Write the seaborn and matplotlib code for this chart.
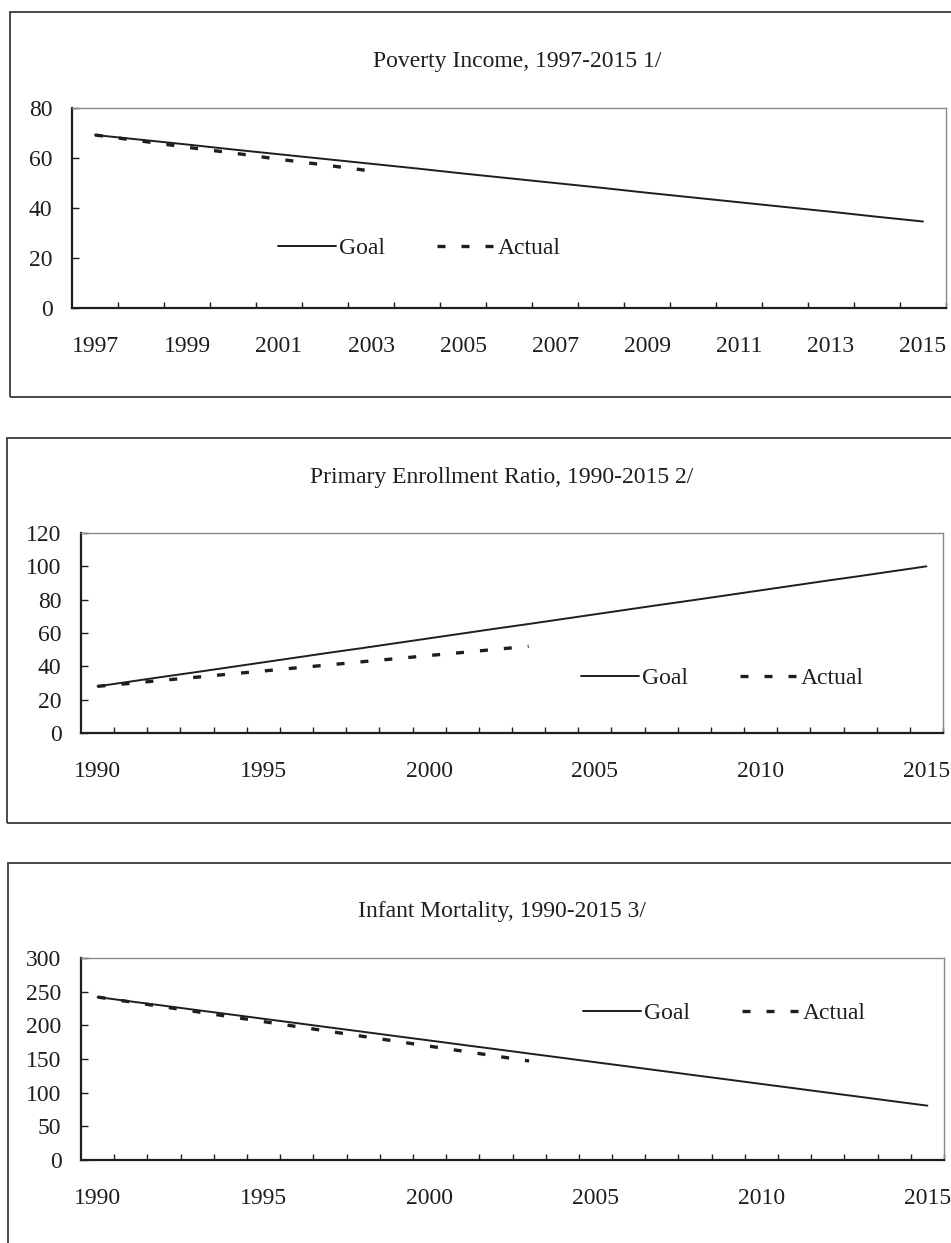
import matplotlib
matplotlib.use("Agg")
import matplotlib.pyplot as plt
import matplotlib.patches as mpatches
from matplotlib.ticker import FixedLocator, NullFormatter
import seaborn as sns
import pandas as pd

# ---- data ----
poverty_years = list(range(1997, 2016))
poverty_goal = [69.2, 67.3, 65.4, 63.4, 61.5, 59.6, 57.7, 55.8, 53.8, 51.9,
                50.0, 48.1, 46.1, 44.2, 42.3, 40.4, 38.5, 36.5, 34.6]
poverty_actual_years = list(range(1997, 2004))
poverty_actual = [69.2, 66.8, 64.3, 62.0, 59.5, 57.2, 54.8]

enroll_years = list(range(1990, 2016))
enroll_goal = [28.0, 30.9, 33.8, 36.6, 39.5, 42.4, 45.3, 48.2, 51.0, 53.9,
               56.8, 59.7, 62.6, 65.4, 68.3, 71.2, 74.1, 77.0, 79.8, 82.7,
               85.6, 88.5, 91.4, 94.2, 97.1, 100.0]
enroll_actual_years = list(range(1990, 2004))
enroll_actual = [28.0, 29.8, 31.7, 33.5, 35.4, 37.2, 39.1, 40.9, 42.8, 44.6,
                 46.5, 48.3, 50.2, 52.0]

infant_years = list(range(1990, 2016))
infant_goal = [242.0, 235.5, 229.1, 222.6, 216.2, 209.7, 203.3, 196.8, 190.4,
               183.9, 177.5, 171.0, 164.6, 158.1, 151.7, 145.2, 138.8, 132.3,
               125.8, 119.4, 112.9, 106.5, 100.0, 93.6, 87.1, 80.7]
infant_actual_years = list(range(1990, 2004))
infant_actual = [242.0, 234.7, 227.4, 220.1, 212.8, 205.5, 198.2, 190.9, 183.6,
                 176.3, 169.0, 161.7, 154.4, 147.0]

titles = ["Poverty Income, 1997-2015 1/",
          "Primary Enrollment Ratio, 1990-2015 2/",
          "Infant Mortality, 1990-2015 3/"]
series_labels = ["Goal", "Actual"]

# ---- styling ----
W, H = 951, 1243
sns.set_style("white")
plt.rcParams["font.family"] = ["Liberation Serif", "DejaVu Serif"]
FS = 17
INK = "#1e1e1e"

fig = plt.figure(figsize=(W / 100, H / 100), dpi=100)


def fx(px):
    return px / W


def fy(py):
    return 1 - py / H


panels = [
    dict(box=(10, 12, 397), rect=(72, 946, 108, 308), title_xy=(517, 62),
         years=poverty_years, goal=poverty_goal,
         ayears=poverty_actual_years, actual=poverty_actual,
         ylim=(0, 80), ystep=20, label_years=list(range(1997, 2016, 2)),
         legend_xy=(278, 248)),
    dict(box=(7, 438, 823), rect=(81, 943, 533, 733), title_xy=(502, 478),
         years=enroll_years, goal=enroll_goal,
         ayears=enroll_actual_years, actual=enroll_actual,
         ylim=(0, 120), ystep=20, label_years=list(range(1990, 2016, 5)),
         legend_xy=(581, 678)),
    dict(box=(8, 863, 1300), rect=(81, 944, 958, 1160), title_xy=(502, 912),
         years=infant_years, goal=infant_goal,
         ayears=infant_actual_years, actual=infant_actual,
         ylim=(0, 300), ystep=50, label_years=list(range(1990, 2016, 5)),
         legend_xy=(583, 1013)),
]

for i, p in enumerate(panels):
    # outer frame around each chart
    bx, btop, bbot = p["box"]
    fig.patches.append(mpatches.Rectangle(
        (fx(bx), fy(bbot)), fx(1100 - bx), (bbot - btop) / H,
        transform=fig.transFigure, fill=False, edgecolor="#3a3a3a",
        linewidth=1.3, zorder=0))

    L, R, T, B = p["rect"]
    ax = fig.add_axes([fx(L), fy(B), fx(R - L), (B - T) / H])
    ax.set_facecolor("none")

    df_goal = pd.DataFrame({"year": p["years"], "value": p["goal"]})
    df_act = pd.DataFrame({"year": p["ayears"], "value": p["actual"]})
    sns.lineplot(data=df_goal, x="year", y="value", ax=ax, color=INK,
                 linewidth=1.4, label=series_labels[0])
    sns.lineplot(data=df_act, x="year", y="value", ax=ax, color=INK,
                 linewidth=2.4, linestyle=(0, (2.4, 4.8)),
                 label=series_labels[1])

    y0, y1 = p["ylim"]
    ax.set_ylim(y0, y1)
    ax.set_yticks(list(range(y0, y1 + 1, p["ystep"])))
    ax.set_xlim(p["years"][0] - 0.5, p["years"][-1] + 0.5)

    # category axis: labels at year centres, tick marks on boundaries
    ax.set_xticks(p["label_years"])
    ax.set_xticklabels([str(y) for y in p["label_years"]])
    bounds = [y + 0.5 for y in p["years"][:-1]] + [p["years"][-1] + 0.5]
    ax.xaxis.set_minor_locator(FixedLocator(bounds))
    ax.xaxis.set_minor_formatter(NullFormatter())
    ax.tick_params(axis="x", which="major", length=0, pad=20.5,
                   labelsize=FS, labelcolor=INK)
    ax.tick_params(axis="x", which="minor", direction="in", length=4.5,
                   width=1.0, color=INK, bottom=True)
    ax.tick_params(axis="y", which="major", direction="in", length=5,
                   width=1.0, color=INK, pad=14, labelsize=FS,
                   labelcolor=INK, left=True)

    ax.set_xlabel("")
    ax.set_ylabel("")

    for side in ("left", "bottom"):
        ax.spines[side].set_color(INK)
        ax.spines[side].set_linewidth(1.6)
    for side in ("top", "right"):
        ax.spines[side].set_color("#8a8a8a")
        ax.spines[side].set_linewidth(1.0)

    lx, ly = p["legend_xy"]
    ax.legend(loc="center left", bbox_to_anchor=(fx(lx), fy(ly)),
              bbox_transform=fig.transFigure, ncol=2, frameon=False,
              fontsize=FS, handlelength=2.45, handletextpad=0.13,
              columnspacing=2.2, borderpad=0, borderaxespad=0,
              labelcolor=INK)

    tx, ty = p["title_xy"]
    fig.text(fx(tx), fy(ty), titles[i], ha="center", va="center",
             fontsize=FS, color=INK)

fig.savefig("out.png", dpi=100)
